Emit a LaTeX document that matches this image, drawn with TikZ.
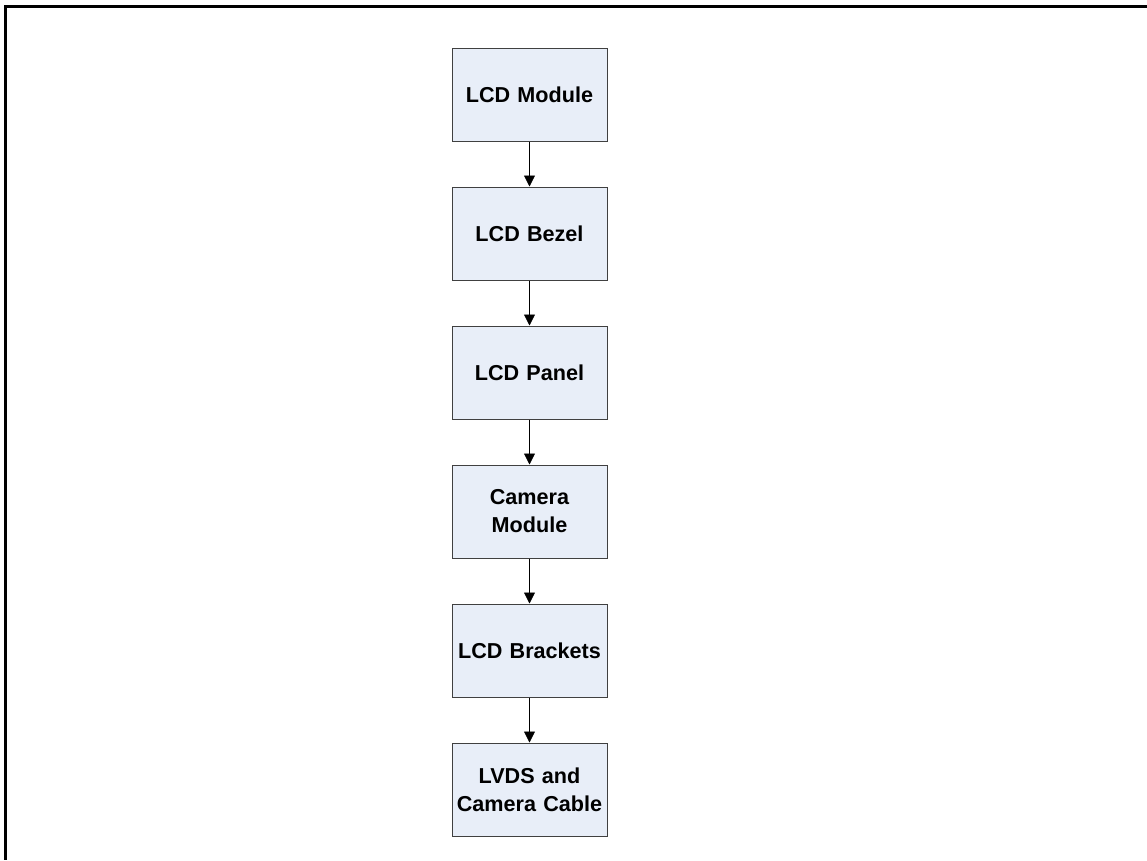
\documentclass[tikz,border=0pt]{standalone}
\usepackage{fontspec}
\setmainfont{Liberation Sans}
\usetikzlibrary{arrows.meta}
\definecolor{boxfill}{RGB}{232,238,248}
\definecolor{boxline}{RGB}{64,64,64}
\begin{document}
\begin{tikzpicture}[x=1pt,y=-1pt,
  stepbox/.style={draw=boxline, line width=1pt, fill=boxfill, minimum width=155pt, minimum height=93pt,
    inner sep=0pt, align=center, text width=150pt, font=\fontsize{21.6}{28}\selectfont\bfseries},
  conn/.style={line width=0.8pt, -{Triangle[length=11pt,width=11pt]}},
  frame/.style={line width=3pt}]
\useasboundingbox (0,0) rectangle (1147,860);
\draw[frame] (4,6.5) coordinate (ftl) -- (1147,6.5) coordinate (ftr);
\draw[frame] (5.5,5) -- (5.5,860) coordinate (fbl);
\node[stepbox] (a) at (529.5,94.5) {LCD Module};
\node[stepbox] (b) at (529.5,233.5) {LCD Bezel};
\node[stepbox] (c) at (529.5,372.5) {LCD Panel};
\node[stepbox] (d) at (529.5,511.5) {Camera\\Module};
\node[stepbox] (e) at (529.5,650.5) {LCD Brackets};
\node[stepbox] (f) at (529.5,789.5) {LVDS and\\Camera Cable};
\draw[conn] (a) -- (b);
\draw[conn] (b) -- (c);
\draw[conn] (c) -- (d);
\draw[conn] (d) -- (e);
\draw[conn] (e) -- (f);
\end{tikzpicture}
\end{document}
